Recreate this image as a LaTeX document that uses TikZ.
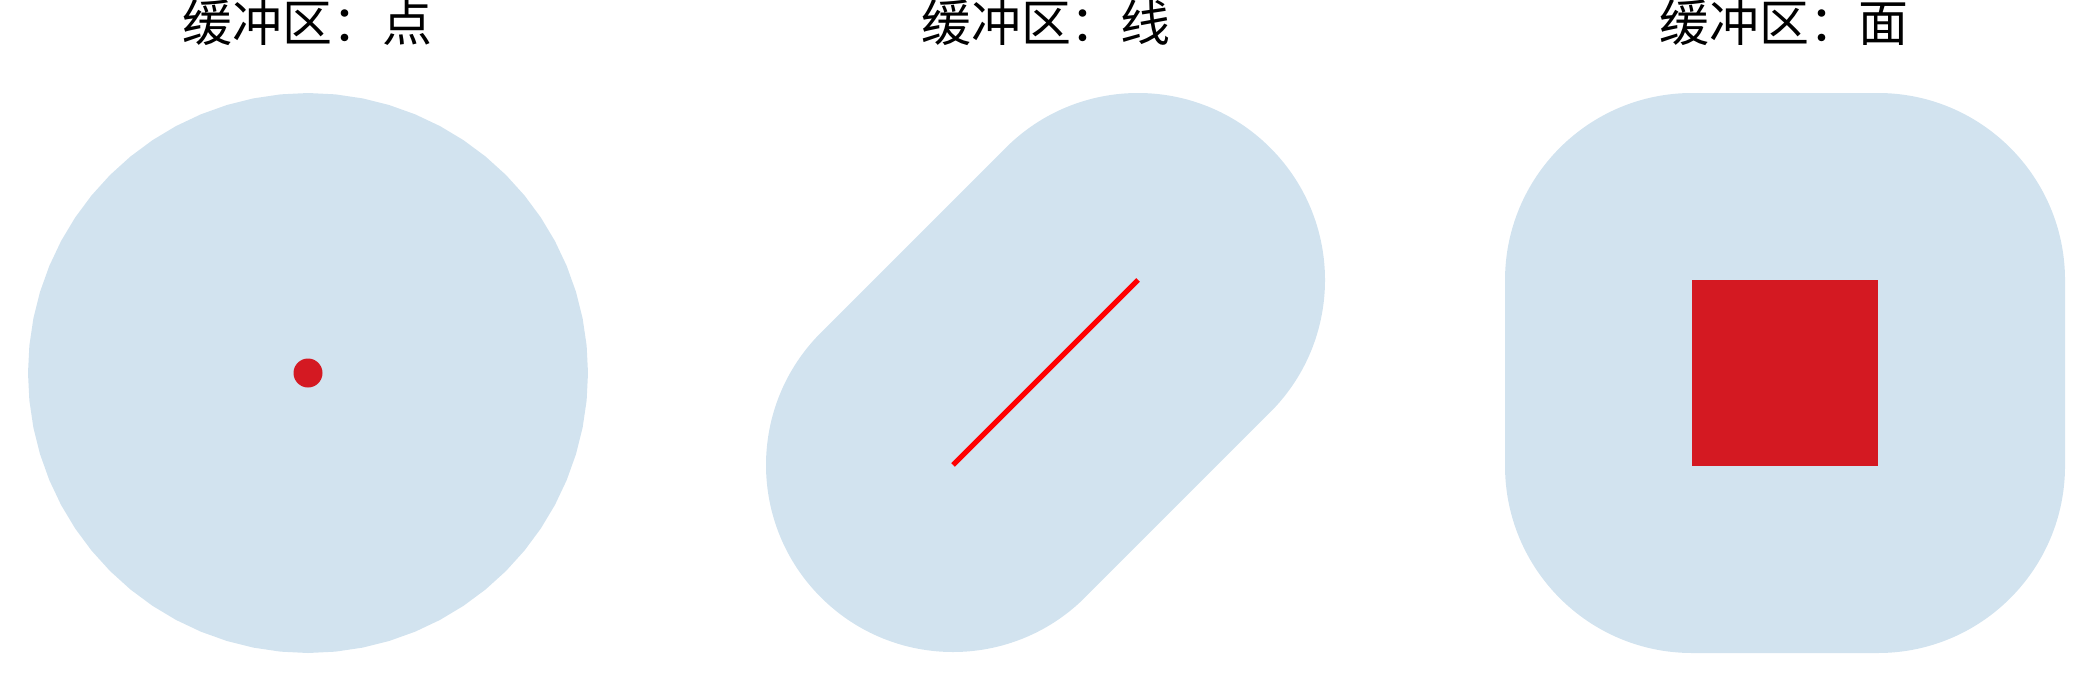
\documentclass[tikz,border=0pt]{standalone}
\usepackage{fontspec}
\newfontfamily\cjk{Noto Sans CJK SC}
\usetikzlibrary{positioning,calc}
\definecolor{BufBlue}{RGB}{210,227,239}
\definecolor{GeoRed}{RGB}{212,25,34}
\tikzset{
	buf/.style={fill=BufBlue,draw=none},
	geom/.style={fill=GeoRed,draw=none},
	seg/.style={draw=red,line width=1.45pt},
	ttl/.style={font=\cjk\fontsize{14.2pt}{17pt}\selectfont,inner sep=0pt},
}

\begin{document}
\begin{tikzpicture}[x=0.01cm,y=0.01cm]
	\useasboundingbox (0,0) rectangle (2092,681);
	% point
	\coordinate (p) at (308,308);
	\fill[buf] ($(p)+(0:280)$) \foreach \a in {5.625,11.25,...,354.375} {-- ($(p)+(\a:280)$)} -- cycle;
	\fill[geom] (p) circle[radius=14.5];
	% line
	\coordinate (a) at (953,216);
	\coordinate (b) at (1138,401);
	\fill[buf] ($(b)+(-45:187)$) arc[start angle=-45,end angle=135,radius=187]
		-- ($(a)+(135:187)$) arc[start angle=135,end angle=315,radius=187] -- cycle;
	\draw[seg] (a)--(b);
	% polygon
	\coordinate (s1) at (1692,215);
	\coordinate (s2) at (1878,401);
	\fill[buf,rounded corners=1.87cm] ($(s1)+(-187,-187)$) rectangle ($(s2)+(187,187)$);
	\fill[geom] (s1) rectangle (s2);
	% titles
	\foreach \n/\x/\t in {tPoint/307.5/点,tLine/1046/线,tPoly/1784/面}
		\node[ttl] (\n) at (\x,658.5) {缓冲区：\t};
\end{tikzpicture}
\end{document}
